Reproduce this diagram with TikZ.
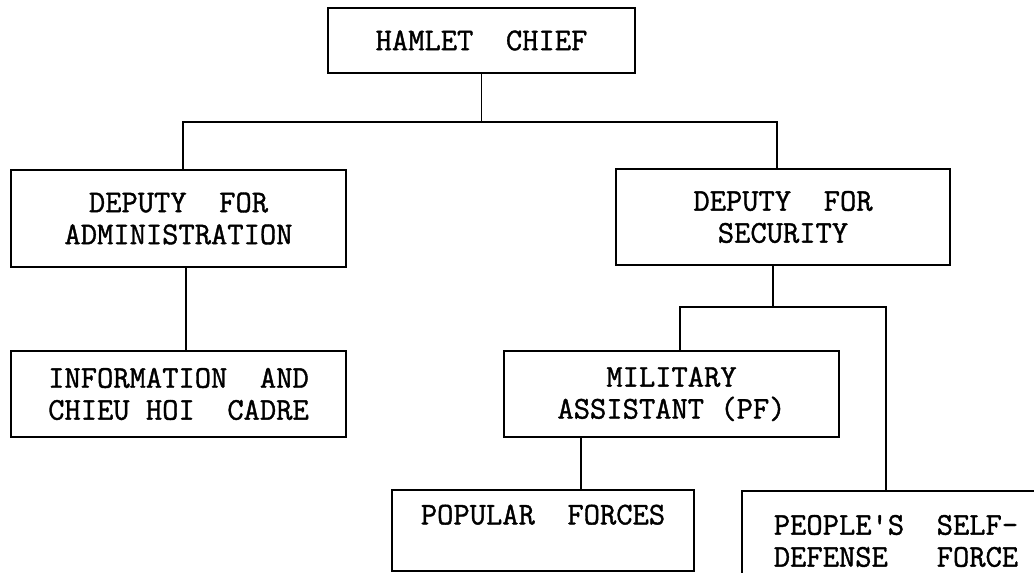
\documentclass[tikz,border=0pt]{standalone}
\usepackage{fontspec}
\usepackage{tikz}
\newfontfamily\typewriter{Latin Modern Mono}[FakeBold=1.2]

\begin{document}
\begin{tikzpicture}[x=0.02cm, y=-0.02cm,
        box/.style={draw, line width=1.1pt, align=center, inner sep=0pt,
            font=\typewriter\fontsize{18}{18.2}\selectfont},
        link/.style={line width=0.8pt}]
        \useasboundingbox (0, 0) rectangle (1034, 573);
        \clip (0, 0) rectangle (1034, 573);
        \node[box, minimum width=6.14cm, minimum height=1.3cm]  (chief)    at (481.5, 40.5) {HAMLET~~CHIEF};
        \node[box, minimum width=6.7cm,  minimum height=1.94cm] (admin)    at (178.5, 218.5) {DEPUTY~~FOR\\ADMINISTRATION};
        \node[box, minimum width=6.7cm,  minimum height=1.72cm] (info)     at (178.5, 394) {INFORMATION~~AND\\CHIEU~HOI~~CADRE};
        \node[box, minimum width=6.68cm, minimum height=1.92cm] (security) at (783, 217) {DEPUTY~~FOR\\SECURITY};
        \node[box, minimum width=6.7cm,  minimum height=1.72cm] (military) at (671.5, 394) {MILITARY\\ASSISTANT~(PF)};
        \node[box, minimum width=6.04cm, minimum height=1.62cm] (popular)  at (543, 530.5) {POPULAR~~FORCES\\\mbox{}};
        \node[box, minimum width=6.16cm, minimum height=2cm]    (peoples)  at (896, 541) {PEOPLE'S~~SELF-\\DEFENSE~~~FORCE};
        % chief to deputies
        \draw[link] (chief.south) -- ++(0, 48) coordinate (bus1);
        \draw[link] ([xshift=0.09cm]admin.north) |- (bus1) -| ([xshift=-0.12cm]security.north);
        \draw[link] ([xshift=0.15cm]admin.south) -- ([xshift=0.15cm]info.north);
        % security branch
        \draw[link] ([xshift=-0.2cm]security.south) -- ++(0, 41) coordinate (bus2);
        \draw[link] ([xshift=0.17cm]military.north) |- (bus2) -| ([xshift=-0.2cm]peoples.north);
        \draw[link] ([xshift=-1.81cm]military.south) -- ([xshift=-1.81cm]military.south |- popular.north);
    \end{tikzpicture}
\end{document}
